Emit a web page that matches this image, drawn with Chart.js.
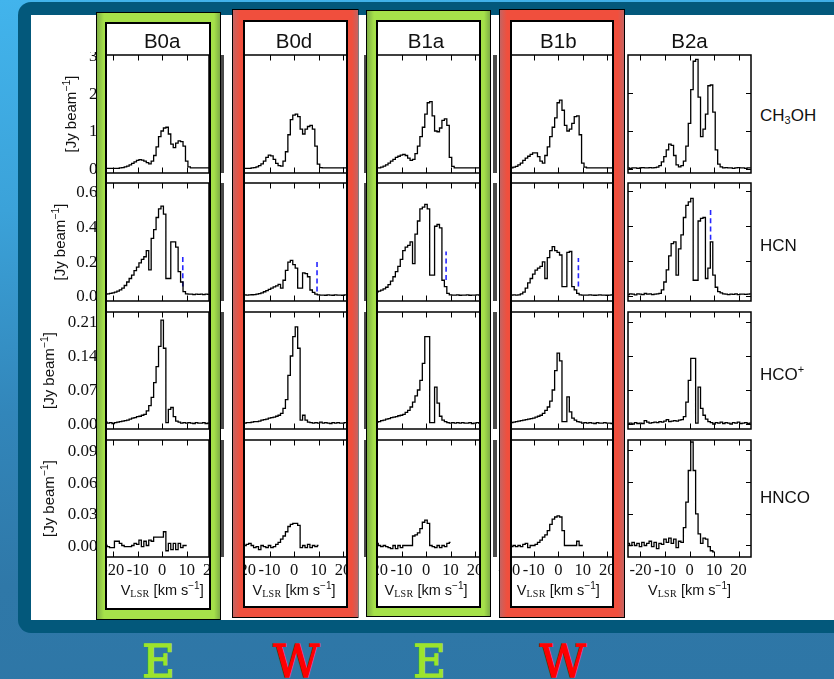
<!DOCTYPE html>
<html>
<head>
<meta charset="utf-8">
<title>Spectra of B0a, B0d, B1a, B1b and B2a</title>
<script src="https://cdn.jsdelivr.net/npm/chart.js@4.4.1/dist/chart.umd.min.js"></script>
<style>
  html, body { margin: 0; padding: 0; }
  body {
    width: 834px; height: 679px; position: relative; overflow: hidden;
    background: linear-gradient(175deg, #42b4ec 0%, #3ba2d9 28%, #3286ba 55%, #2f78a8 78%, #2e76a6 100%);
    font-family: "Liberation Sans", Arial, sans-serif; color: #111;
  }
  .abs { position: absolute; }
  #frame { left: 18px; top: 2px; width: 840px; height: 631px; background: #03587b; border-radius: 13px; }
  #paper { left: 31px; top: 15px; width: 803px; height: 605px; background: #fff; }
  .strip { background: #4a4a4a; z-index: 1; }
  .fill { background: #fff; z-index: 1; }
  .ring { z-index: 3; box-sizing: border-box; border: 1.5px solid #000; }
  .edge { z-index: 3; box-sizing: border-box; border: 2px solid #000; }
  .title { z-index: 4; font-size: 20.5px; line-height: 24px; white-space: nowrap; transform: translateX(-50%); }
  .mol { z-index: 4; font-size: 17px; line-height: 20px; white-space: nowrap; }
  .mol sub { font-size: 11px; vertical-align: -3px; line-height: 0; }
  .mol sup { font-size: 11px; vertical-align: 7px; line-height: 0; }
  .xtitle { z-index: 4; font-size: 14.5px; line-height: 18px; white-space: nowrap; transform: translateX(-50%); }
  .xtitle .lsr { font-family: "Liberation Serif", serif; font-size: 10px; vertical-align: -2px; line-height: 0; letter-spacing: 0.3px; }
  .xtitle sup { font-size: 10px; vertical-align: 6px; line-height: 0; }
  .letter { z-index: 4; font-family: "DejaVu Serif", serif; font-size: 45px; line-height: 45px;
            transform: translateX(-50%); -webkit-text-stroke: 1.4px currentColor; }
  canvas { position: absolute; z-index: 2; }
</style>
</head>
<body>
<div id="frame" class="abs"></div>
<div id="paper" class="abs"></div>
<script>
// ---- data -----------------------------------------------------------------
const sources = ['B0a', 'B0d', 'B1a', 'B1b', 'B2a'];
const groupLetters = ['E', 'W', 'E', 'W'];

// channel velocities, km/s
const velocity = [-25,-24,-23,-22,-21,-20,-19,-18,-17,-16,-15,-14,-13,-12,-11,-10,-9,-8,-7,-6,-5,-4,-3,-2,-1,
                  0,1,2,3,4,5,6,7,8,9,10,11,12,13,14,15,16,17,18,19,20,21,22,23,24,25];

const velTicks = [-20, -10, 0, 10, 20];
const velTickText = ['-20', '-10', '0', '10', '20'];
const fluxTicks = [[0, 1, 2, 3], [0, 0.2, 0.4, 0.6], [0, 0.07, 0.14, 0.21], [0, 0.03, 0.06, 0.09]];
const fluxTickText = [['0', '1', '2', '3'], ['0.0', '0.2', '0.4', '0.6'], ['0.00', '0.07', '0.14', '0.21'], ['0.00', '0.03', '0.06', '0.09']];

// CH3OH, Jy/beam
const ch3oh_B0a = [0.01,0.01,0.01,0.01,0.01,0.01,0.01,0.01,0.02,
  0.03,0.05,0.07,0.10,0.14,0.18,0.22,0.24,0.23,0.20,0.16,0.13,0.20,0.35,0.58,0.85,
  1.00,1.08,1.10,0.92,0.65,0.56,0.68,0.74,0.72,0.60,0.20,0.05,
  0.02,0.02,0.02,0.02,0.02,0.02,0.02,0.02,0.02,0.02,0.02,0.02,0.02,0.02];
const ch3oh_B0d = [0.01,0.01,0.01,0.01,0.01,0.01,0.01,0.01,0.02,
  0.03,0.05,0.08,0.13,0.20,0.30,0.36,0.34,0.25,0.14,0.08,0.07,0.20,0.45,0.90,1.30,
  1.42,1.45,1.38,1.05,0.92,1.05,1.12,1.15,1.05,0.60,0.12,0.03,
  0.02,0.02,0.02,0.02,0.02,0.02,0.02,0.02,0.02,0.02,0.02,0.02,0.02,0.02];
const ch3oh_B1a = [0.02,0.02,0.02,0.02,0.02,0.02,0.02,
  0.04,0.07,0.10,0.15,0.20,0.25,0.30,0.33,0.36,0.38,0.35,0.28,0.22,0.25,0.40,0.60,0.85,1.10,
  1.45,1.75,1.78,1.40,1.00,0.98,1.08,1.28,1.32,1.15,0.30,0.06,
  0.02,0.02,0.02,0.02,0.02,0.02,0.02,0.02,0.02,0.02,0.02,0.02,0.02,0.02];
const ch3oh_B1b = [0.02,0.02,0.02,0.02,0.02,0.02,0.02,
  0.04,0.06,0.10,0.15,0.22,0.28,0.33,0.38,0.42,0.42,0.32,0.20,0.15,0.35,0.58,0.85,1.10,1.35,
  1.75,1.82,1.55,1.15,1.00,1.05,1.20,1.38,1.40,0.90,0.15,0.04,
  0.02,0.02,0.02,0.02,0.02,0.02,0.02,0.02,0.02,0.02,0.02,0.02,0.02,0.02];
const ch3oh_B2a = [0.02,0.01,0.02,0.02,0.01,0.02,0.03,0.02,0.02,0.03,0.02,0.03,
  0.04,0.08,0.18,0.32,0.50,0.65,0.62,0.35,0.10,0.05,0.08,0.20,0.60,
  1.20,2.10,2.85,2.90,1.90,0.85,1.05,1.45,2.20,2.22,1.50,0.50,0.12,0.05,
  0.02,0.03,0.02,0.02,0.01,0.02,0.03,0.02,0.02,0.01,0.02,0.02];

// HCN, Jy/beam
const hcn_B0a = [0.010,0.010,0.011,0.012,0.015,0.018,0.022,
  0.028,0.035,0.045,0.060,0.080,0.100,0.120,0.145,0.165,0.190,0.210,0.225,0.260,0.150,0.330,0.380,0.450,0.500,
  0.515,0.470,0.100,0.100,0.310,0.310,0.280,0.140,0.080,0.025,0.012,0.010,
  0.010,0.008,0.011,0.009,0.010,0.008,0.010,0.009,0.011,0.010,0.008,0.010,0.009,0.010];
const hcn_B0d = [0.005,0.004,0.006,0.005,0.005,0.006,0.005,0.006,0.007,
  0.008,0.010,0.013,0.018,0.024,0.030,0.038,0.045,0.052,0.058,0.066,0.045,0.090,0.147,0.194,0.204,
  0.180,0.160,0.045,0.045,0.132,0.128,0.110,0.034,0.020,0.010,0.006,0.005,
  0.005,0.004,0.006,0.005,0.004,0.006,0.005,0.005,0.004,0.006,0.005,0.005,0.004,0.005];
const hcn_B1a = [0.020,0.020,0.021,0.022,0.022,
  0.024,0.028,0.033,0.040,0.050,0.065,0.085,0.110,0.140,0.170,0.210,0.260,0.280,0.290,0.310,0.185,0.355,0.430,0.500,0.510,
  0.525,0.500,0.119,0.119,0.400,0.410,0.390,0.090,0.053,0.015,0.006,0.005,
  0.005,0.006,0.004,0.005,0.005,0.006,0.004,0.005,0.005,0.006,0.005,0.004,0.005,0.005];
const hcn_B1b = [0.005,0.005,0.005,0.005,0.006,0.005,0.005,0.006,0.005,0.006,
  0.012,0.022,0.045,0.075,0.100,0.125,0.148,0.160,0.170,0.195,0.100,0.220,0.260,0.283,0.260,
  0.250,0.235,0.053,0.053,0.250,0.255,0.053,0.035,0.015,0.006,0.005,0.005,
  0.005,0.006,0.005,0.004,0.005,0.006,0.005,0.005,0.004,0.005,0.006,0.005,0.005,0.004];
const hcn_B2a = [0.008,0.012,0.010,0.006,0.012,0.010,0.008,0.014,0.010,0.012,0.008,0.010,0.012,
  0.015,0.035,0.080,0.150,0.230,0.300,0.310,0.120,0.270,0.350,0.450,0.520,
  0.540,0.560,0.090,0.090,0.430,0.445,0.450,0.100,0.160,0.310,0.120,0.050,0.025,0.018,
  0.012,0.010,0.008,0.011,0.009,0.012,0.008,0.010,0.011,0.009,0.010,0.012];
// dashed HCN markers: velocity and extent of each tick
const hcnMarkVel = [8.4, 9.4, 8.2, 8.2, 8.6];
const hcnMarkLow = [0.054, 0.025, 0.092, 0.054, 0.323];
const hcnMarkHigh = [0.227, 0.198, 0.255, 0.217, 0.500];

// HCO+, Jy/beam
const hcop_B0a = [0.003,0.001,0.004,0.002,0.003,0.001,0.003,
  0.004,0.005,0.006,0.007,0.008,0.010,0.012,0.013,0.015,0.016,0.018,0.020,0.027,0.038,0.055,0.085,0.118,0.160,
  0.214,0.156,0.003,0.030,0.034,0.015,0.006,0.004,0.002,0.003,0.002,0.003,
  0.002,0.001,0.003,0.002,0.002,0.003,0.001,0.002,0.003,0.002,0.001,0.002,0.003,0.002];
const hcop_B0d = [0.002,0.003,0.001,0.002,0.003,0.002,0.003,
  0.003,0.004,0.005,0.005,0.006,0.008,0.009,0.010,0.012,0.013,0.014,0.016,0.018,0.022,0.032,0.050,0.100,0.140,
  0.180,0.200,0.156,0.008,0.018,0.008,0.004,0.003,0.002,0.003,0.002,0.004,
  0.002,0.003,0.002,0.001,0.003,0.002,0.003,0.002,0.002,0.003,0.001,0.002,0.003,0.002];
const hcop_B1a = [0.003,0.002,0.003,0.003,0.004,
  0.004,0.005,0.007,0.008,0.010,0.011,0.013,0.014,0.015,0.017,0.018,0.020,0.024,0.028,0.035,0.045,0.058,0.070,0.090,0.125,
  0.180,0.180,0.003,0.003,0.076,0.043,0.016,0.008,0.005,0.003,0.002,0.003,
  0.002,0.003,0.002,0.003,0.002,0.002,0.003,0.001,0.002,0.003,0.002,0.002,0.003,0.002];
const hcop_B1b = [0.002,0.002,0.003,0.002,0.002,0.002,
  0.003,0.004,0.005,0.006,0.007,0.008,0.009,0.010,0.011,0.012,0.014,0.016,0.018,0.022,0.028,0.035,0.047,0.070,0.110,
  0.146,0.130,0.005,0.005,0.056,0.025,0.012,0.008,0.005,0.004,0.002,0.003,
  0.002,0.003,0.002,0.001,0.003,0.002,0.002,0.003,0.002,0.002,0.001,0.003,0.002,0.002];
const hcop_B2a = [0.001,0.002,0.000,0.003,0.001,0.002,0.001,0.007,0.004,0.002,0.003,0.004,0.003,0.005,0.004,0.006,0.009,0.005,0.006,0.007,0.006,0.008,0.009,0.015,0.045,
  0.090,0.135,0.135,0.002,0.076,0.032,0.018,0.010,0.005,0.003,0.000,0.003,0.002,0.004,0.001,0.003,0.002,0.000,0.003,0.002,0.004,0.001,0.002,0.003,0.001,0.002];

// HNCO, Jy/beam (channels from -25 to +10 km/s)
const hnco_B0a = [0.000,0.000,0.000,-0.001,-0.002,-0.002,0.004,0.004,0.002,0.000,-0.001,-0.001,-0.001,0.000,0.002,0.001,0.005,-0.001,0.004,0.000,0.005,0.004,0.008,0.008,0.008,
  0.008,0.013,-0.005,0.002,-0.004,0.002,-0.004,0.002,-0.002,0.000,0.000];
const hnco_B0d = [0.000,0.001,0.000,0.001,0.000,0.000,0.001,0.002,0.000,-0.002,-0.001,-0.004,0.000,-0.001,-0.002,0.000,-0.002,-0.001,0.001,0.003,0.006,0.009,0.013,0.018,0.020,
  0.021,0.021,0.019,-0.002,0.000,-0.002,0.001,-0.002,0.000,-0.001,0.000];
const hnco_B1a = [0.001,0.000,0.001,0.000,0.002,0.002,0.000,-0.001,0.000,-0.001,-0.002,-0.003,0.000,-0.003,0.000,-0.002,0.000,0.000,0.000,0.000,0.009,0.010,0.012,0.016,0.022,
  0.024,0.021,0.000,-0.001,-0.002,0.000,-0.002,0.000,-0.001,0.002,0.003];
const hnco_B1b = [0.000,-0.001,0.000,0.001,0.000,-0.001,-0.001,0.000,-0.001,0.000,-0.001,0.001,0.002,-0.002,0.000,0.000,0.001,0.003,0.005,0.008,0.010,0.014,0.020,0.025,0.027,
  0.028,0.027,0.014,0.000,0.000,0.000,0.000,0.000,0.004,0.000,0.000];
const hnco_B2a = [0.002,0.000,0.003,0.000,0.002,-0.001,0.003,0.000,0.002,0.004,-0.001,0.003,-0.003,0.002,0.001,0.006,0.003,0.007,0.002,0.006,-0.002,0.004,0.003,0.017,0.041,
  0.071,0.098,0.071,0.030,0.011,0.002,0.007,0.006,-0.001,-0.005,-0.006];

// ---- layout -----------------------------------------------------------------
// plot boxes (page px); v0 = pixel of 0 km/s
const COLS = [
  { left: 106, right: 209, v0: 162.2, ring: { x: 95.5, y: 12, r: 221, b: 620 }, box: { x: 106, y: 22.5, r: 209.5, b: 609 }, tone: 'green' },
  { left: 244, right: 347, v0: 294,   ring: { x: 232, y: 9, r: 358.5, b: 618 },  box: { x: 244, y: 20.5, r: 347, b: 607 }, tone: 'red' },
  { left: 377, right: 480, v0: 426,   ring: { x: 366, y: 10, r: 491, b: 617 },   box: { x: 377, y: 20.5, r: 480, b: 606.5 }, tone: 'green' },
  { left: 511, right: 613, v0: 558.3, ring: { x: 499, y: 9, r: 625, b: 618 },    box: { x: 510.5, y: 20.5, r: 613, b: 606.5 }, tone: 'red' },
  { left: 628, right: 751, v0: 689.5, ring: null, box: null, tone: null }
];
const PX_PER_KMS = 2.45;
const ROWS = [
  { top: 55,  bottom: 173, min: -0.114, max: 3.016, yTitleX: 71 },
  { top: 183, bottom: 301, min: -0.029, max: 0.648, yTitleX: 60 },
  { top: 312, bottom: 429, min: -0.0103, max: 0.2306, yTitleX: 49 },
  { top: 440, bottom: 557, min: -0.0109, max: 0.0999, yTitleX: 49 }
];
const TONES = {
  green: { base: '#a6e14a', dark: '#7fae45' },
  red:   { base: '#f04f3d', dark: '#c46462' }
};

const spectra = [
  [ch3oh_B0a, ch3oh_B0d, ch3oh_B1a, ch3oh_B1b, ch3oh_B2a],
  [hcn_B0a, hcn_B0d, hcn_B1a, hcn_B1b, hcn_B2a],
  [hcop_B0a, hcop_B0d, hcop_B1a, hcop_B1b, hcop_B2a],
  [hnco_B0a, hnco_B0d, hnco_B1a, hnco_B1b, hnco_B2a]
];
spectra.forEach((row, r) => row.forEach((s, c) => {
  const want = r === 3 ? 36 : velocity.length;
  if (s.length !== want) throw new Error('series ' + r + '/' + c + ' has ' + s.length + ' channels');
}));

// ---- frame + ticks + labels drawn on each panel -------------------------------
const spectrumFrame = {
  id: 'spectrumFrame',
  afterDatasetsDraw(chart, _args, o) {
    const { ctx, chartArea: a } = chart;
    const xs = chart.scales.x, ys = chart.scales.y;
    ctx.save();
    ctx.strokeStyle = '#000';
    ctx.lineWidth = 1;
    ctx.beginPath();
    for (const t of velTicks) {
      const px = Math.round(xs.getPixelForValue(t)) + 0.5;
      if (px <= a.left + 1.5 || px >= a.right - 1.5) continue;
      ctx.moveTo(px, a.top); ctx.lineTo(px, a.top + 5.5);
      ctx.moveTo(px, a.bottom); ctx.lineTo(px, a.bottom - 5.5);
    }
    if (o.sideTicks) {
      for (const t of fluxTicks[o.row]) {
        const py = Math.round(ys.getPixelForValue(t)) + 0.5;
        if (py <= a.top + 1.5 || py >= a.bottom - 1.5) continue;
        ctx.moveTo(a.left, py); ctx.lineTo(a.left + 5, py);
        ctx.moveTo(a.right, py); ctx.lineTo(a.right - 5, py);
      }
    }
    ctx.stroke();
    ctx.lineWidth = 1.5;
    ctx.strokeRect(a.left, a.top, a.right - a.left, a.bottom - a.top);
    ctx.fillStyle = '#111';
    if (o.yLabels) {
      ctx.font = '17px "Liberation Serif"';
      ctx.textAlign = 'right';
      ctx.textBaseline = 'middle';
      fluxTicks[o.row].forEach((t, i) => {
        ctx.fillText(fluxTickText[o.row][i], a.left - 8.5, ys.getPixelForValue(t) + 1);
      });
      // axis title, rotated
      const main = '15px "Liberation Sans"', sup = '10.5px "Liberation Sans"';
      ctx.font = main;
      const w1 = ctx.measureText('[Jy beam').width, w3 = ctx.measureText(']').width;
      ctx.font = sup;
      const w2 = ctx.measureText('\u22121').width;
      ctx.translate(o.yTitleX, (a.top + a.bottom) / 2);
      ctx.rotate(-Math.PI / 2);
      ctx.textAlign = 'left';
      ctx.textBaseline = 'alphabetic';
      let x = -(w1 + w2 + w3) / 2;
      ctx.font = main; ctx.fillText('[Jy beam', x, 5); x += w1;
      ctx.font = sup;  ctx.fillText('\u22121', x, -1); x += w2;
      ctx.font = main; ctx.fillText(']', x, 5);
      ctx.setTransform(1, 0, 0, 1, 0, 0);
    }
    if (o.xLabels) {
      ctx.font = '16.5px "Liberation Serif"';
      ctx.textAlign = 'center';
      ctx.textBaseline = 'middle';
      velTicks.forEach((t, i) => ctx.fillText(velTickText[i], xs.getPixelForValue(t), a.bottom + 14));
    }
    ctx.restore();
  }
};

function addDiv(cls, x, y, w, h, extra) {
  const d = document.createElement('div');
  d.className = 'abs ' + cls;
  d.style.left = x + 'px'; d.style.top = y + 'px';
  if (w != null) d.style.width = w + 'px';
  if (h != null) d.style.height = h + 'px';
  if (extra) Object.assign(d.style, extra);
  document.body.appendChild(d);
  return d;
}

function makePanel(c, r) {
  const col = COLS[c], row = ROWS[r];
  const last = r === ROWS.length - 1;
  const pad = {
    left: c === 0 ? 70 : (last ? 16 : 3),
    right: last ? 16 : 3,
    top: 3,
    bottom: last ? 26 : 3
  };
  const W = col.right - col.left + pad.left + pad.right;
  const H = row.bottom - row.top + pad.top + pad.bottom;
  const cv = document.createElement('canvas');
  cv.width = W; cv.height = H;
  cv.style.left = (col.left - pad.left) + 'px';
  cv.style.top = (row.top - pad.top) + 'px';
  cv.style.width = W + 'px'; cv.style.height = H + 'px';
  document.body.appendChild(cv);

  const series = spectra[r][c];
  const datasets = [{
    data: velocity.map((v, i) => ({ x: v, y: i < series.length ? series[i] : null })),
    borderColor: '#000', borderWidth: 1.3, stepped: 'middle', pointRadius: 0, fill: false
  }];
  if (r === 1) {
    datasets.push({
      data: [{ x: hcnMarkVel[c], y: hcnMarkLow[c] }, { x: hcnMarkVel[c], y: hcnMarkHigh[c] }],
      borderColor: '#2626ff', borderWidth: 1.6, borderDash: [5, 3.2], pointRadius: 0, fill: false
    });
  }
  new Chart(cv, {
    type: 'line',
    data: { datasets },
    options: {
      responsive: false, animation: false, devicePixelRatio: 1, events: [],
      layout: { padding: pad },
      scales: {
        x: { type: 'linear', display: false,
             min: (col.left - col.v0) / PX_PER_KMS, max: (col.right - col.v0) / PX_PER_KMS },
        y: { type: 'linear', display: false, min: row.min, max: row.max }
      },
      plugins: {
        legend: { display: false }, tooltip: { enabled: false },
        spectrumFrame: {
          row: r,
          sideTicks: c === 4,
          yLabels: c === 0,
          yTitleX: row.yTitleX - (col.left - pad.left),
          xLabels: last
        }
      }
    },
    plugins: [spectrumFrame]
  });
}

// underlying panel edges peeking out between the frames
const stripX = [[221, 2.5], [363.5, 2.5], [492.5, 4]];
ROWS.forEach(row => stripX.forEach(([x, w]) => addDiv('strip', x, row.top, w, row.bottom - row.top)));

// white column backgrounds
COLS.forEach(col => {
  if (!col.box) return;
  addDiv('fill', col.box.x, col.box.y, col.box.r - col.box.x, col.box.b - col.box.y);
});

// spectra
COLS.forEach((_, c) => ROWS.forEach((_, r) => makePanel(c, r)));

// coloured frames around the E / W columns
COLS.forEach(col => {
  if (!col.ring) return;
  const g = col.ring, b = col.box, t = TONES[col.tone];
  const ow = g.r - g.x, oh = g.b - g.y;
  const ix = b.x - g.x, iy = b.y - g.y, iw = b.r - b.x, ih = b.b - b.y;
  addDiv('ring', g.x, g.y, ow, oh, {
    background: `linear-gradient(to right, ${t.dark} 0px, ${t.base} 7px, ${t.base} calc(100% - 6px), ${t.dark} 100%)`,
    clipPath: `polygon(evenodd, 0 0, ${ow}px 0, ${ow}px ${oh}px, 0 ${oh}px, 0 0, ${ix}px ${iy}px, ${ix}px ${iy + ih}px, ${ix + iw}px ${iy + ih}px, ${ix + iw}px ${iy}px, ${ix}px ${iy}px)`
  });
  addDiv('edge', b.x - 1, b.y - 1, iw + 2, ih + 2);
});

// column titles
COLS.forEach((col, c) => {
  const d = addDiv('title', col.v0, 28.5);
  d.textContent = sources[c];
});

// molecule labels
const molHtml = ['CH<sub>3</sub>OH', 'HCN', 'HCO<sup>+</sup>', 'HNCO'];
const molY = [105.5, 235.5, 364.5, 488];
molHtml.forEach((h, i) => { addDiv('mol', 760, molY[i]).innerHTML = h; });

// velocity axis titles
COLS.forEach(col => {
  addDiv('xtitle', col.v0, 580.5).innerHTML = 'V<span class="lsr">LSR</span> [km s<sup>\u22121</sup>]';
});

// E / W group letters
const letterX = [158.5, 296.5, 429.5, 563];
const letterColor = { E: '#9de42b', W: '#ff0000' };
groupLetters.forEach((L, i) => {
  const d = addDiv('letter', letterX[i], 638.5, null, null, { color: letterColor[L] });
  d.textContent = L;
});
</script>
</body>
</html>
